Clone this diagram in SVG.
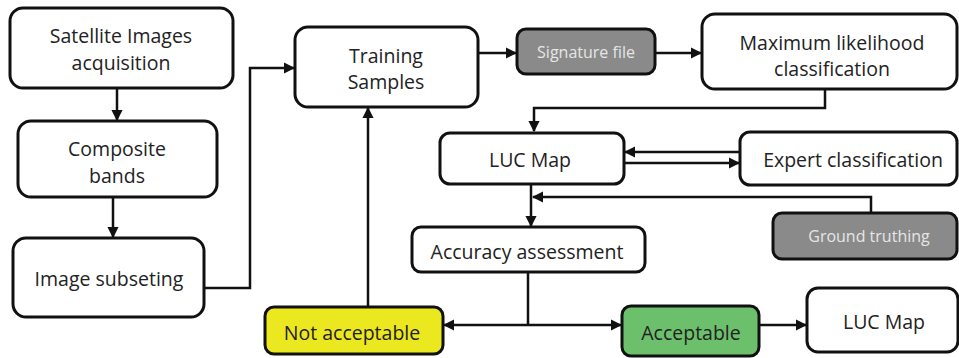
<svg xmlns="http://www.w3.org/2000/svg" width="959" height="358" viewBox="0 0 959 358">
<defs>
<style>
.box{fill:#fff;stroke:#111;stroke-width:3}
.gray{fill:#8a8a8a}
.yellow{fill:#ece81f}
.green{fill:#6cc06c}
.t{font-family:"Open Sans","Liberation Sans",sans-serif;font-size:19.5px;fill:#222;text-anchor:middle;dominant-baseline:central}
.tw{fill:#e6e6e6;font-size:16px}
.c{fill:none;stroke:#111;stroke-width:2.5}
</style>
<marker id="ah" viewBox="0 0 10 10" refX="9" refY="5" markerWidth="4.5" markerHeight="4.5" orient="auto" markerUnits="strokeWidth">
<path d="M0,0 L10,5 L0,10 z" fill="#111"/>
</marker>
</defs>
<rect width="959" height="358" fill="#fff"/>
<g id="connectors">
<path class="c" d="M117,88 V120" marker-end="url(#ah)"/>
<path class="c" d="M113,197 V237" marker-end="url(#ah)"/>
<path class="c" d="M204,288 H250 V68 H294" marker-end="url(#ah)"/>
<path class="c" d="M478,53 H516" marker-end="url(#ah)"/>
<path class="c" d="M655,53 H701" marker-end="url(#ah)"/>
<path class="c" d="M825,89 V108 H534 V131" marker-end="url(#ah)"/>
<path class="c" d="M740,152 H625" marker-end="url(#ah)"/>
<path class="c" d="M624,163 H739" marker-end="url(#ah)"/>
<path class="c" d="M531,184 V226" marker-end="url(#ah)"/>
<path class="c" d="M871,213 V197 H533" marker-end="url(#ah)"/>
<path class="c" d="M528,272 V325"/>
<path class="c" d="M528,325 H444" marker-end="url(#ah)"/>
<path class="c" d="M528,325 H621" marker-end="url(#ah)"/>
<path class="c" d="M759,325 H806" marker-end="url(#ah)"/>
<path class="c" d="M368,307 V108" marker-end="url(#ah)"/>
</g>
<g id="satellite">
<rect class="box" x="10" y="8" width="223" height="80" rx="13"/>
<text class="t" x="121" y="35">Satellite Images</text>
<text class="t" x="121" y="62">acquisition</text>
</g>
<g id="composite">
<rect class="box" x="18" y="121" width="199" height="76" rx="13"/>
<text class="t" x="117" y="148">Composite</text>
<text class="t" x="117" y="175">bands</text>
</g>
<g id="subset">
<rect class="box" x="13" y="238" width="191" height="79" rx="13"/>
<text class="t" x="109" y="278">Image subseting</text>
</g>
<g id="training">
<rect class="box" x="295" y="27" width="183" height="80" rx="13"/>
<text class="t" x="386" y="55">Training</text>
<text class="t" x="386" y="81">Samples</text>
</g>
<g id="signature">
<rect class="box gray" x="517" y="29" width="138" height="45" rx="9"/>
<text class="t tw" x="586" y="52">Signature file</text>
</g>
<g id="maxlik">
<rect class="box" x="702" y="14" width="255" height="75" rx="13"/>
<text class="t" x="832" y="42">Maximum likelihood</text>
<text class="t" x="832" y="68">classification</text>
</g>
<g id="lucmap1">
<rect class="box" x="440" y="133" width="184" height="51" rx="10"/>
<text class="t" x="530" y="159">LUC Map</text>
</g>
<g id="expert">
<rect class="box" x="740" y="132" width="217" height="53" rx="10"/>
<text class="t" x="853" y="159">Expert classification</text>
</g>
<g id="ground">
<rect class="box gray" x="773" y="213" width="184" height="46" rx="9"/>
<text class="t tw" x="869" y="236">Ground truthing</text>
</g>
<g id="accuracy">
<rect class="box" x="412" y="227" width="233" height="45" rx="9"/>
<text class="t" x="527" y="251">Accuracy assessment</text>
</g>
<g id="notacc">
<rect class="box yellow" x="265" y="307" width="178" height="47" rx="9"/>
<text class="t" x="352" y="332">Not acceptable</text>
</g>
<g id="acceptable">
<rect class="box green" x="622" y="306" width="137" height="50" rx="9"/>
<text class="t" x="691" y="332">Acceptable</text>
</g>
<g id="lucmap2">
<rect class="box" x="807" y="288" width="151" height="64" rx="11"/>
<text class="t" x="884" y="321">LUC Map</text>
</g>
</svg>
